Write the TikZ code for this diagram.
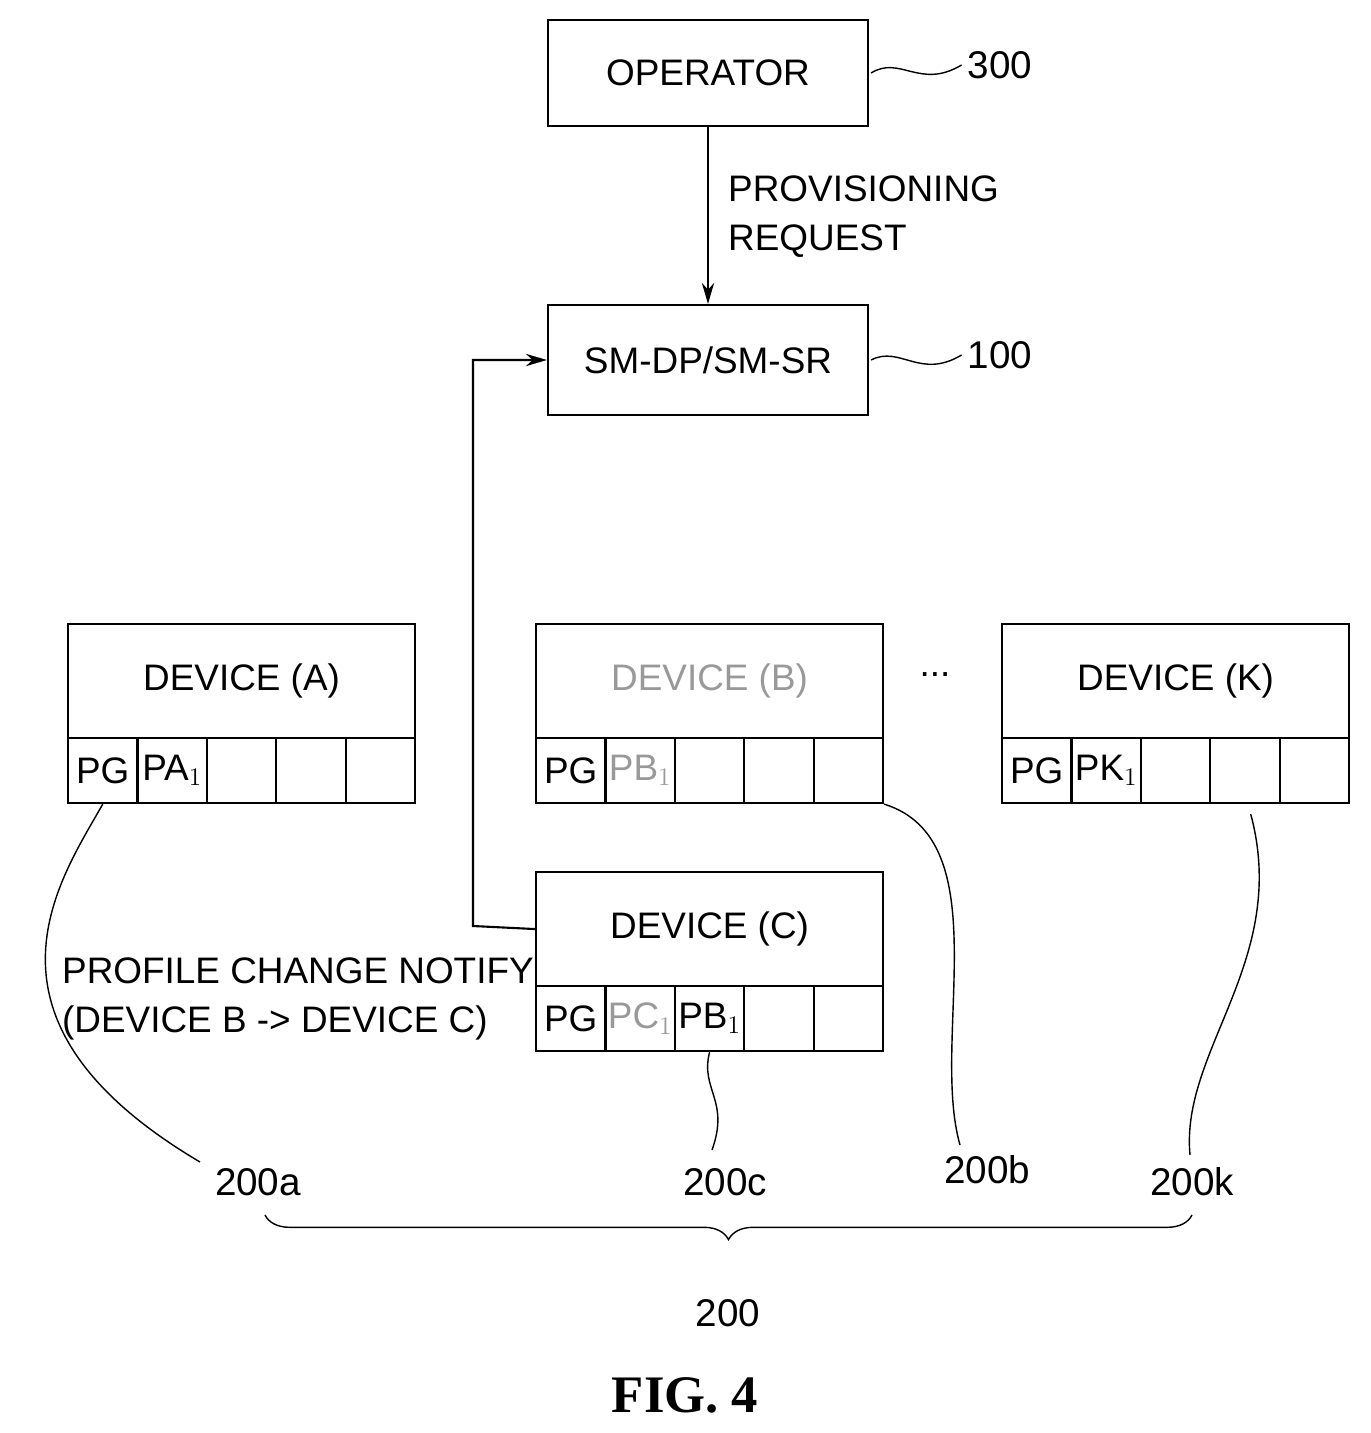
\documentclass[tikz,border=0pt]{standalone}
\usepackage{fontspec}
\setmainfont{Liberation Sans}
\newfontfamily\figfont{Liberation Serif}
\usetikzlibrary{decorations.pathreplacing,arrows.meta}
\begin{document}
\begin{tikzpicture}[x=0.02cm,y=-0.02cm,
  box/.style={draw,line width=1.2pt},
  txt/.style={font=\fontsize{21}{24}\selectfont},
  lbl/.style={font=\fontsize{22}{24}\selectfont},
  lead/.style={line width=0.8pt},
  arr/.style={line width=1.2pt,-{Stealth[length=12pt,width=7pt]}},
  dim/.style={text=black!40}]
\useasboundingbox (0,0) rectangle (1370,1433);
% operator & server
\node[box,minimum width=320*0.02cm,minimum height=106*0.02cm,txt] (op) at (708,73) {OPERATOR};
\node[box,minimum width=320*0.02cm,minimum height=110*0.02cm,txt] (sm) at (708,360) {SM-DP/SM-SR};
\node[lbl] (l300) at (1000,65) {300};
\node[lbl] (l100) at (1000,355) {100};
\draw[lead] (op.east)++(2,0) coordinate (o1) .. controls (900,55) and (920,90) .. (l300.west);
\draw[lead] (sm.east)++(2,0) coordinate (s1) .. controls (900,345) and (920,380) .. (l100.west);
\draw[arr] (op.south) -- (sm.north);
\node[txt,anchor=west,align=left] (prov) at (722,217) {PROVISIONING\\[4pt]REQUEST};
% devices
\newcommand\mydevice[5]{% name, x0, y0, title, style
  \node[box,anchor=north west,minimum width=347*0.02cm,minimum height=114*0.02cm,txt,#5] (#1) at (#2,#3) {#4};
  \foreach \i in {0,...,4}{
    \node[box,anchor=north west,minimum width=69.4*0.02cm,minimum height=65*0.02cm,inner sep=0pt] (#1c\i) at ({#2+69.4*\i},{#3+114}) {};}
}
\mydevice{da}{67}{623}{DEVICE (A)}{}
\mydevice{db}{535}{623}{DEVICE (B)}{dim}
\mydevice{dk}{1001}{623}{DEVICE (K)}{}
\mydevice{dc}{535}{871}{DEVICE (C)}{}
\node[txt] at (dac0) {PG};
\node[txt] at (dac1) {PA$_1$};
\node[txt] at (dbc0) {PG};
\node[txt,dim] at (dbc1) {PB$_1$};
\node[txt] at (dkc0) {PG};
\node[txt] at (dkc1) {PK$_1$};
\node[txt] at (dcc0) {PG};
\node[txt,dim] at (dcc1) {PC$_1$};
\node[txt] at (dcc2) {PB$_1$};
\node[txt] (dots) at (935,675) {...};
% notify arrow
\coordinate (bend1) at (473,926);
\coordinate (bend2) at (473,360);
\draw[arr] (dc.west) -- (bend1) -- (bend2) -- (sm.west);
\node[txt,anchor=west,align=left] (notify) at (56,999) {PROFILE CHANGE NOTIFY\\[4pt](DEVICE B -> DEVICE C)};
% labels
\node[lbl] (la) at (258,1182) {200a};
\node[lbl] (lc) at (725,1182) {200c};
\node[lbl] (lb) at (987,1170) {200b};
\node[lbl] (lk) at (1192,1182) {200k};
\node[lbl] (l200) at (728,1313) {200};
\node[font=\figfont\bfseries\fontsize{30}{32}\selectfont] (fig) at (685,1395) {FIG. 4};
\draw[lead] (dac0.south) .. controls (60,880) and (-40,1020) .. (200,1162);
\draw[lead] (dcc2.south) .. controls (700,1090) and (730,1100) .. (712,1150);
\draw[lead] (dbc4.south east) .. controls (1000,840) and (930,1040) .. (960,1145);
\draw[lead] (dkc3.south east)++(-30,10) coordinate (k1) .. controls (1290,960) and (1180,1050) .. (1190,1155);
\draw[lead,decorate,decoration={brace,mirror,amplitude=14pt}] (265,1215) -- (1192,1215);
\end{tikzpicture}
\end{document}
